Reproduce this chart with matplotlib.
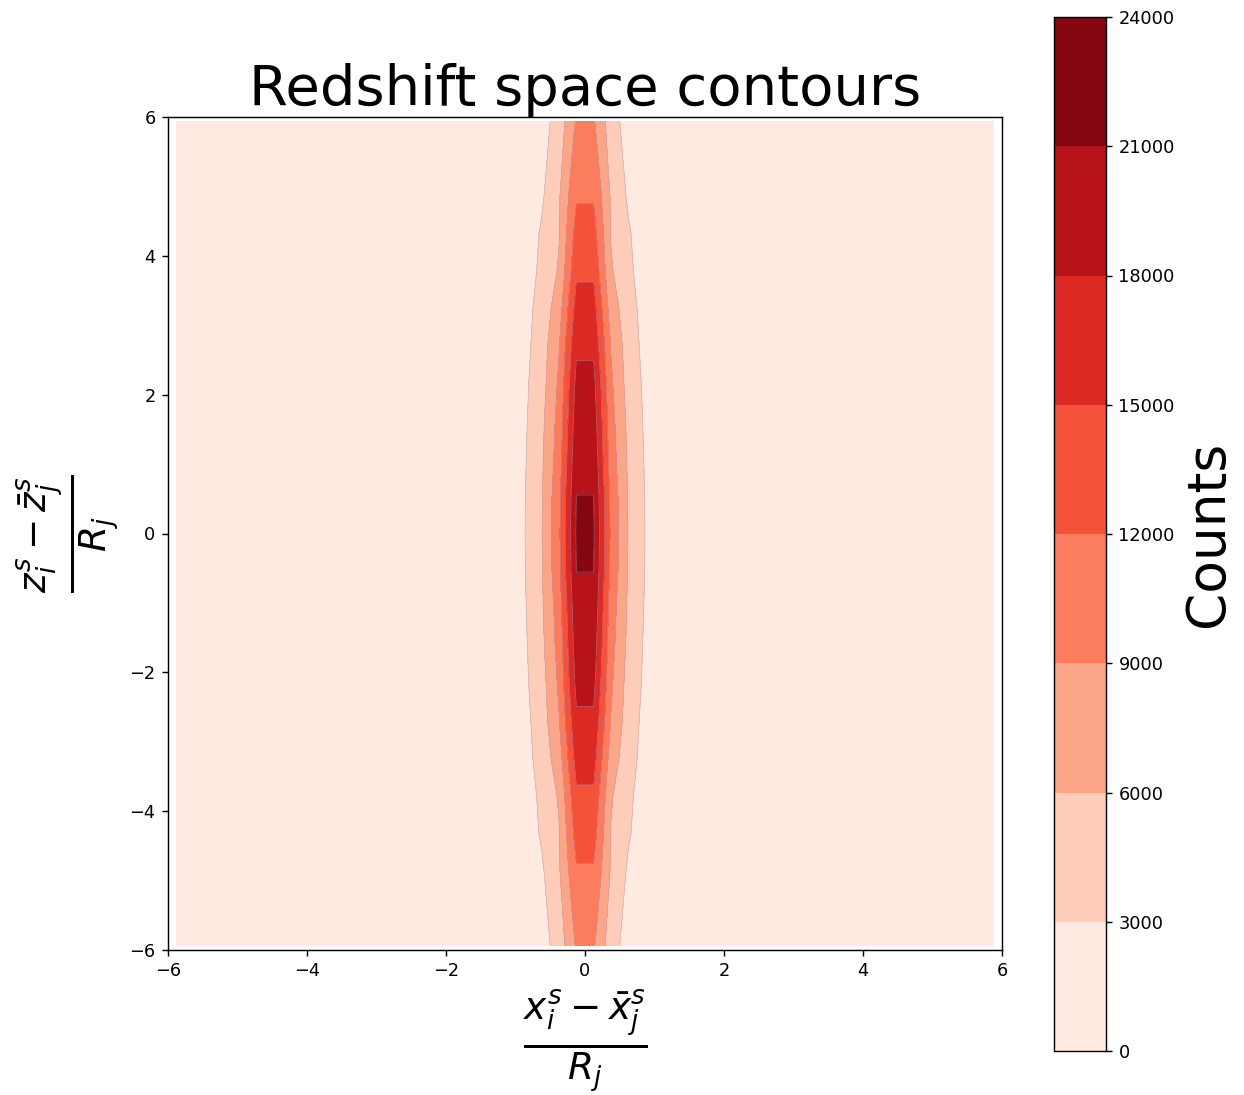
import numpy as np
import matplotlib
matplotlib.use('Agg')
import matplotlib.pyplot as plt

# histogram layout: 48 columns in x, rows in z (upper half, mirrored below)
x_edges_lim = 6.0
x_bin = 0.25
z_rows_half = np.array([0, 0.54, 1.08, 1.62, 2.16, 2.70, 3.24, 3.78, 4.32, 4.86, 5.40, 5.94])

# counts per z row for the central columns |x| = 0.125, 0.375, 0.625, 0.875, 1.125
col_0125 = [21300, 21020, 20300, 19600, 18800, 17500, 16200, 14500, 13200, 11700, 10500, 9300]
col_0375 = [11430, 11200, 10500, 10065, 9470, 8800, 7500, 6300, 5800, 5640, 4875, 4300]
col_0625 = [5800, 5700, 5500, 5225, 4780, 4500, 4200, 3600, 3300, 2570, 2120, 1700]
col_0875 = [2850, 2800, 2660, 2510, 2375, 2080, 1800, 1500, 1300, 1100, 900, 700]
col_1125 = [1200, 1150, 1100, 1000, 950, 900, 800, 700, 600, 500, 400, 300]
tail_counts = [400, 250, 150, 80]

levels = [0, 3000, 6000, 9000, 12000, 15000, 18000, 21000, 24000]

x_centers = np.arange(-x_edges_lim + x_bin / 2, x_edges_lim, x_bin)
z_centers = np.concatenate([-z_rows_half[:0:-1], z_rows_half])

half = np.column_stack([col_0125, col_0375, col_0625, col_0875, col_1125])
n_half_x = len(x_centers) // 2
right = np.zeros((len(z_rows_half), n_half_x))
right[:, :5] = half
for k, t in enumerate(tail_counts):
    right[:, 5 + k] = t * np.array(col_1125) / col_1125[0]
upper = np.hstack([right[:, ::-1], right])
counts = np.vstack([upper[:0:-1], upper])

fig = plt.figure(figsize=(1244 / 128, 1095 / 128), dpi=128)
ax = fig.add_axes([168 / 1244, 145 / 1095, 834 / 1244, 833 / 1095])
cax = fig.add_axes([1054 / 1244, 44 / 1095, 52 / 1244, 1034 / 1095])

X, Z = np.meshgrid(x_centers, z_centers)
cs = ax.contourf(X, Z, counts, levels=levels, cmap='Reds')
ax.contour(X, Z, counts, levels=levels[1:-1], colors='#b89ab0', linewidths=0.4, alpha=0.6)
ax.set_xlim(-6, 6)
ax.set_ylim(-6, 6)
ax.set_xticks([-6, -4, -2, 0, 2, 4, 6])
ax.set_yticks([-6, -4, -2, 0, 2, 4, 6])
ax.set_title('Redshift space contours', fontsize=31.5)
ax.set_xlabel(r'$\frac{x_i^s - \bar{x}_j^s}{R_j}$', fontsize=30)
ax.set_ylabel(r'$\frac{z_i^s - \bar{z}_j^s}{R_j}$', fontsize=30)

cb = fig.colorbar(cs, cax=cax)
cb.set_label('Counts', fontsize=30)

fig.savefig('out.png', dpi=128)
